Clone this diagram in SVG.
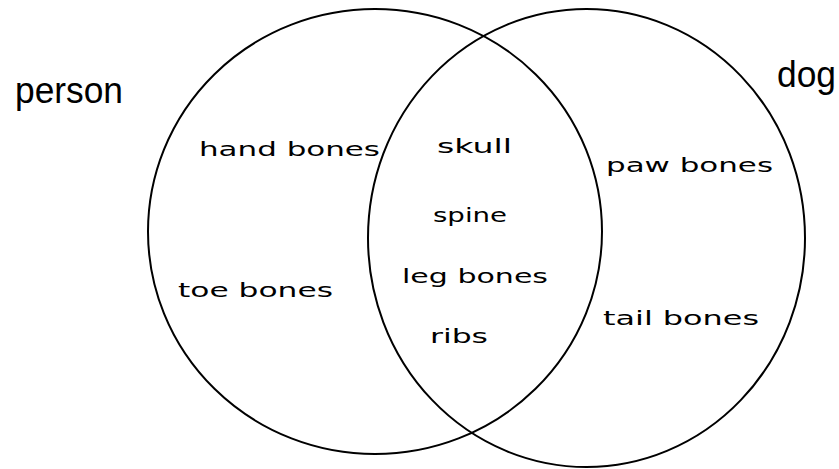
<svg xmlns="http://www.w3.org/2000/svg" width="839" height="469" viewBox="0 0 839 469">
<style>
.set{fill:none;stroke:#000;stroke-width:2}
.title{font-family:"Liberation Sans",Arial,sans-serif;font-size:36px;fill:#000}
.hand{font-family:"DejaVu Sans","Liberation Sans",sans-serif;font-size:20px;fill:#000}
</style>
<rect width="839" height="469" fill="#fff"/>
<g id="person">
<ellipse class="set" cx="375" cy="231.5" rx="227" ry="222.5"/>
<text class="title" x="15" y="103" textLength="108" lengthAdjust="spacingAndGlyphs">person</text>
</g>
<g id="dog">
<ellipse class="set" cx="586.5" cy="238" rx="218.5" ry="229"/>
<text class="title" x="777" y="87" textLength="59" lengthAdjust="spacingAndGlyphs">dog</text>
</g>
<g id="person-only">
<text class="hand" x="199" y="156" textLength="181" lengthAdjust="spacingAndGlyphs">hand bones</text>
<text class="hand" x="178" y="297" textLength="155" lengthAdjust="spacingAndGlyphs">toe bones</text>
</g>
<g id="both">
<text class="hand" x="437" y="153" textLength="75" lengthAdjust="spacingAndGlyphs">skull</text>
<text class="hand" x="433" y="222" textLength="74" lengthAdjust="spacingAndGlyphs">spine</text>
<text class="hand" x="402" y="283" textLength="146" lengthAdjust="spacingAndGlyphs">leg bones</text>
<text class="hand" x="430" y="343" textLength="58" lengthAdjust="spacingAndGlyphs">ribs</text>
</g>
<g id="dog-only">
<text class="hand" x="606" y="172" textLength="167" lengthAdjust="spacingAndGlyphs">paw bones</text>
<text class="hand" x="603" y="325" textLength="156" lengthAdjust="spacingAndGlyphs">tail bones</text>
</g>
<g id="connectors"></g>
</svg>
